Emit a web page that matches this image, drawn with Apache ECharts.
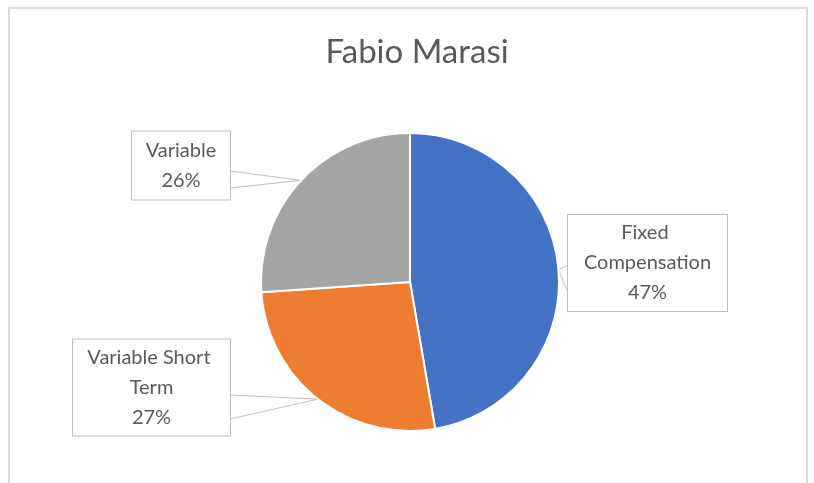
<!DOCTYPE html>
<html>
<head>
<meta charset="utf-8">
<script src="https://cdn.jsdelivr.net/npm/echarts@6/dist/echarts.min.js"></script>
<style>
html,body{margin:0;padding:0;background:#fff;}
#main{width:814px;height:483px;}
</style>
</head>
<body>
<div id="main"></div>
<script>
var chartTitle = 'Fabio Marasi';
var categories = ['Fixed Compensation', 'Variable Short Term', 'Variable'];
var values = [47.3, 26.6, 26.1];
var colors = ['#4472C4', '#ED7D31', '#A5A5A5'];

// callout box layout (center x, y, content width, wedge base points)
var callouts = [
  { cx: 647.5, cy: 263, w: 147, pad: [3, 6], base: [[568, 265], [568, 293]] },
  { cx: 151.5, cy: 387.5, w: 145, pad: [3, 6], base: [[230, 395], [230, 419]] },
  { cx: 181, cy: 165.5, w: 86, pad: [4, 6], base: [[230, 171], [230, 188]] }
];

var data = categories.map(function (name, i) {
  return {
    name: name,
    value: values[i],
    itemStyle: { color: colors[i] },
    label: { width: callouts[i].w, padding: callouts[i].pad }
  };
});

var chart = echarts.init(document.getElementById('main'), null, { renderer: 'canvas' });
chart.setOption({
  backgroundColor: '#ffffff',
  animation: false,
  title: {
    text: chartTitle,
    left: 412,
    top: 31,
    textAlign: 'center',
    textStyle: { fontFamily: 'Lato', fontSize: 33, fontWeight: 'normal', color: '#595959' }
  },
  graphic: [{
    type: 'rect',
    shape: { x: 9, y: 8, width: 798, height: 520 },
    style: { fill: 'none', stroke: '#d9d9d9', lineWidth: 2 },
    silent: true
  }],
  series: [{
    type: 'pie',
    center: [410, 282],
    radius: 149,
    startAngle: 90,
    clockwise: true,
    percentPrecision: 0,
    data: data,
    itemStyle: { borderColor: '#ffffff', borderWidth: 2 },
    label: {
      show: true,
      position: 'outside',
      formatter: '{b}\n{d}%',
      fontFamily: 'Lato',
      fontSize: 20,
      lineHeight: 30,
      color: '#595959',
      align: 'center',
      overflow: 'break',
      backgroundColor: '#ffffff',
      borderColor: '#bfbfbf',
      borderWidth: 1
    },
    labelLine: {
      show: true,
      length: 10,
      length2: 10,
      lineStyle: { color: '#bfbfbf', width: 1 }
    },
    labelLayout: function (params) {
      var c = callouts[params.dataIndex];
      var tip = params.labelLinePoints ? params.labelLinePoints[0] : null;
      var res = { x: c.cx, y: c.cy, align: 'center', verticalAlign: 'middle' };
      if (tip) {
        res.labelLinePoints = [c.base[0], tip, c.base[1]];
      }
      return res;
    }
  }]
});
</script>
</body>
</html>
